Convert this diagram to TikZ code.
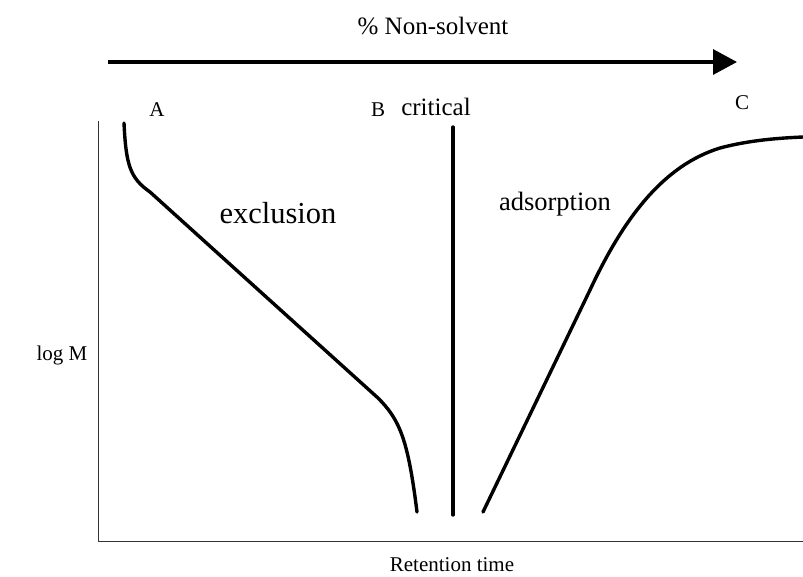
\documentclass[tikz,border=0pt]{standalone}
\usepackage{fontspec}
\setmainfont{Liberation Serif}
\usetikzlibrary{arrows.meta}
\begin{document}
\begin{tikzpicture}[x=1pt,y=-1pt,
  lbl/.style={inner sep=0pt, anchor=center},
  thickcurve/.style={line width=3.4pt, line cap=round, line join=round},
  axis/.style={line width=0.9pt, draw=black!80}]
\useasboundingbox (0,0) rectangle (803,576);
% top arrow
\node[lbl, font=\fontsize{25}{30}\selectfont] (nonsolv) at (433,26) {\% Non-solvent};
\coordinate (arrs) at (108,62);
\coordinate (arre) at (737,62);
\draw[line width=3.4pt, -{Triangle[length=24pt,width=25pt]}] (arrs) -- (arre);
% labels
\node[lbl, font=\fontsize{21}{25}\selectfont] (A) at (157,110) {A};
\node[lbl, font=\fontsize{21}{25}\selectfont] (B) at (378,110) {B};
\node[lbl, font=\fontsize{25}{30}\selectfont] (crit) at (436,107) {critical};
\node[lbl, font=\fontsize{21}{25}\selectfont] (C) at (742,103) {C};
\node[lbl, font=\fontsize{30.5}{36}\selectfont] (excl) at (278,213) {exclusion};
\node[lbl, font=\fontsize{26.5}{31}\selectfont] (ads) at (555,204) {adsorption};
\node[lbl, font=\fontsize{21}{25}\selectfont] (logm) at (62,355) {log M};
\node[lbl, font=\fontsize{21}{25}\selectfont] (rt) at (452,565) {Retention time};
% axes
\coordinate (o) at (98,541);
\coordinate (ytop) at (98,121);
\coordinate (xend) at (803,541);
\draw[axis] (ytop) -- (o) -- (xend);
% critical line
\coordinate (ct) at (453,127);
\coordinate (cb) at (453,515);
\draw[thickcurve] (ct) -- (cb);
% exclusion curve
\draw[thickcurve] (124,123) .. controls (126,165) and (130,178) .. (150,192)
  -- (378,398) .. controls (400,420) and (408,440) .. (417,512);
% adsorption curve
\draw[thickcurve] (483,512) -- (590,290) .. controls (625,215) and (665,165) .. (720,148)
  .. controls (750,140) and (780,138) .. (803,137);
\end{tikzpicture}
\end{document}
